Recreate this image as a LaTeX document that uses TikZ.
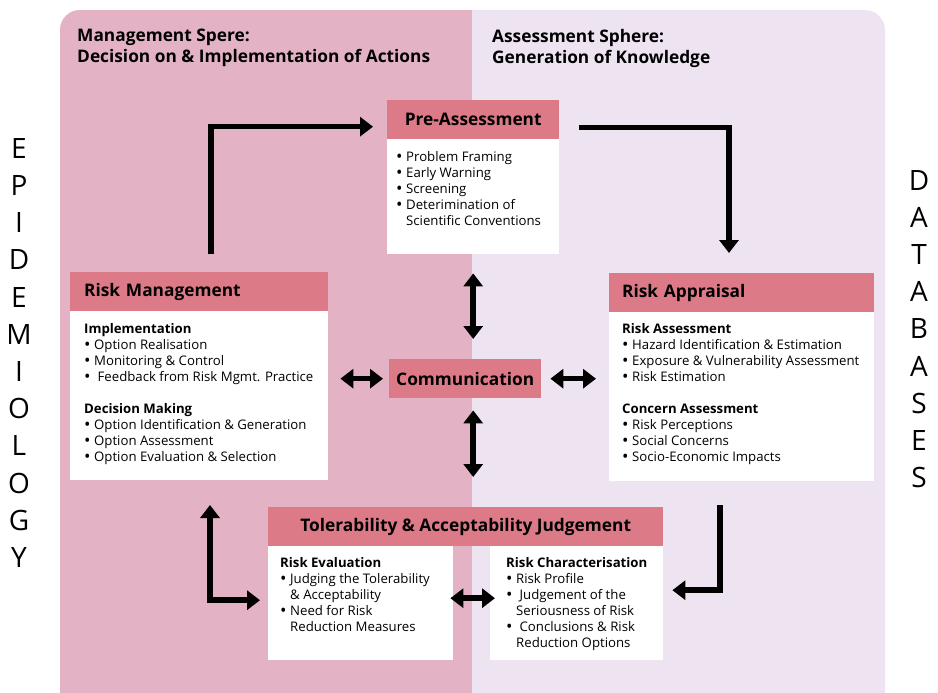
\documentclass[tikz,border=0pt]{standalone}
\usepackage{fontspec}
\setmainfont{Open Sans}
\usetikzlibrary{arrows.meta,positioning}

\definecolor{mgmtbg}{HTML}{E3B3C5}
\definecolor{assbg}{HTML}{EEE4F1}
\definecolor{headpink}{HTML}{DC7A88}

\newcommand{\bul}{\makebox[10pt][l]{\raisebox{-1.3pt}{\scalebox{1.3}{\textbullet}}}}
\newcommand{\bulind}{\hspace*{10pt}}

\tikzset{
  sphere/.style={anchor=north west,inner sep=0pt,align=left,font=\bfseries\fontsize{17.3}{21}\selectfont},
  head/.style={anchor=north west,fill=headpink,inner sep=0pt,minimum height=39pt,font=\bfseries\fontsize{17.3}{19}\selectfont},
  body/.style={anchor=north west,fill=white,inner sep=0pt},
  txt/.style={anchor=north west,inner sep=0pt,align=left,font=\fontsize{13.2}{16}\selectfont},
  sidelabel/.style={inner sep=0pt,align=center,font=\fontsize{28}{37.2}\selectfont},
  flow/.style={line width=5.5pt,-{Triangle[width=19pt,length=13pt]}},
  both/.style={line width=5.5pt,{Triangle[width=19pt,length=13pt]}-{Triangle[width=19pt,length=13pt]}},
}

\begin{document}
\begin{tikzpicture}[x=1pt,y=-1pt]
\useasboundingbox (0,0) rectangle (938,693);

% the two spheres
\fill[assbg,rounded corners=20pt] (60,10) rectangle (885,730);
\begin{scope}
\clip[rounded corners=20pt] (60,10) rectangle (885,730);
\fill[mgmtbg] (60,10) rectangle (472,730);
\end{scope}

\node[sphere] (mgmtTitle) at (77,29) {Management Spere:\\Decision on \& Implementation of Actions};
\node[sphere] (assTitle) at (492,29) {Assessment Sphere:\\Generation of Knowledge};

% side labels
\node[sidelabel] (epiLabel) at (19,353) {E\\P\\I\\D\\E\\M\\I\\O\\L\\O\\G\\Y};
\node[sidelabel] (dbLabel) at (919,329) {D\\A\\T\\A\\B\\A\\S\\E\\S};

% pre-assessment
\node[head,minimum width=172pt] (preHead) at (387,100) {Pre-Assessment};
\node[body,minimum width=172pt,minimum height=115pt] (preBody) at (387,139) {};
\node[txt] (preText) at (396,151) {\bul Problem Framing\\
\bul Early Warning\\
\bul Screening\\
\bul Deterimination of\\
\bulind Scientific Conventions};

% risk management
\node[head,minimum width=258pt,text width=230pt,inner xsep=14pt,align=left] (rmHead) at (70,272) {Risk Management};
\node[body,minimum width=258pt,minimum height=169pt] (rmBody) at (70,311) {};
\node[txt] (rmText) at (84,323) {\textbf{Implementation}\\
\bul Option Realisation\\
\bul Monitoring \& Control\\
\bul\ Feedback from Risk Mgmt. Practice\\[16pt]
\textbf{Decision Making}\\
\bul Option Identification \& Generation\\
\bul Option Assessment\\
\bul Option Evaluation \& Selection};

% risk appraisal
\node[head,minimum width=265pt,text width=239pt,inner xsep=13pt,align=left] (raHead) at (609,273) {Risk Appraisal};
\node[body,minimum width=265pt,minimum height=169pt] (raBody) at (609,312) {};
\node[txt] (raText) at (622,323) {\textbf{Risk Assessment}\\
\bul Hazard Identification \& Estimation\\
\bul Exposure \& Vulnerability Assessment\\
\bul Risk Estimation\\[16pt]
\textbf{Concern Assessment}\\
\bul Risk Perceptions\\
\bul Social Concerns\\
\bul Socio-Economic Impacts};

% communication
\node[head,minimum width=152pt] (comm) at (389,359) {Communication};

% tolerability and acceptability
\node[head,minimum width=395pt] (tolHead) at (268,507) {Tolerability \& Acceptability Judgement};
\node[body,minimum width=185pt,minimum height=114pt] (evalBody) at (268,546) {};
\node[body,minimum width=173pt,minimum height=114pt] (charBody) at (490,546) {};
\node[txt] (evalText) at (280,557) {\textbf{Risk Evaluation}\\
\bul Judging the Tolerability\\
\bulind \& Acceptability\\
\bul Need for Risk\\
\bulind Reduction Measures};
\node[txt] (charText) at (506,557) {\textbf{Risk Characterisation}\\
\bul Risk Profile\\
\bul\ Judgement of the\\
\bulind Seriousness of Risk\\
\bul\ Conclusions \& Risk\\
\bulind Reduction Options};

% cycle
\coordinate (rmOut) at (211,254);
\coordinate (raIn) at (729,253);
\coordinate (raOut) at (720,505);
\coordinate (rmIn) at (210,505);
\draw[flow] (rmOut) |- ([xshift=-14pt,yshift=-7pt]preHead.west);
\draw[flow] ([xshift=20pt,yshift=-8pt]preHead.east) -| (raIn);
\draw[flow] (raOut) |- ([xshift=9pt,yshift=13pt]charBody.east);
\draw[both] (rmIn) |- ([xshift=-8pt,yshift=3pt]evalBody.west);

% communication links
\draw[both] ([yshift=-19pt]preBody.south) -- ([yshift=20pt]preBody.south |- comm.north);
\draw[both] ([yshift=-12pt]preBody.south |- comm.south) -- ([yshift=30pt]preBody.south |- tolHead.north);
\draw[both] ([xshift=-6pt]comm.west) -- ([xshift=12pt]comm.west -| rmBody.east);
\draw[both] ([xshift=9pt]comm.east) -- ([xshift=-13pt]comm.east -| raBody.west);
\draw[both] ([xshift=-3pt,yshift=5pt]evalBody.east) -- ([xshift=5pt,yshift=5pt]charBody.west);
\end{tikzpicture}
\end{document}
